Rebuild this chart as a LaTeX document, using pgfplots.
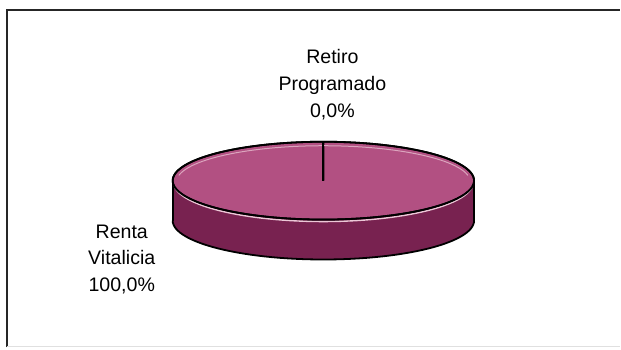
\documentclass[border=0pt]{standalone}
\usepackage{pgfplots}
\pgfplotsset{compat=1.18}
\usepgfplotslibrary{fillbetween}
\usepackage{fontspec}
\setmainfont{Liberation Sans}

\definecolor{topface}{RGB}{178,80,130}
\definecolor{sideface}{RGB}{120,34,80}
\definecolor{rim}{RGB}{236,200,215}

% pie values (percent), slices start at 12 o'clock and run clockwise
\def\valRenta{100}
\def\valRetiro{0}

\begin{document}
\begin{tikzpicture}
\pgfmathsetmacro{\angRenta}{\valRenta/(\valRenta+\valRetiro)*360}
\begin{axis}[
  width=310.5pt, height=175pt, scale only axis,
  xmin=0, xmax=621, ymin=0, ymax=350, y dir=reverse,
  hide axis, clip=false,
]
  % keep the whole canvas
  \path (axis cs:0,0) rectangle (axis cs:621,350);
  % frame
  \draw[line width=1.2pt, black!85] (axis cs:7,348) -- (axis cs:7,10) -- (axis cs:621,10);
  \draw[line width=0.8pt, black!12] (axis cs:7,347) -- (axis cs:621,347);

  % side of the disc (front half)
  \addplot[name path=frontTop, draw=none, domain=0:180, samples=60]
    ({324+151*cos(x)}, {181+39*sin(x)});
  \addplot[name path=frontBot, draw=none, domain=0:180, samples=60]
    ({324+151*cos(x)}, {221+39*sin(x)});
  \addplot[sideface] fill between[of=frontTop and frontBot];
  \addplot[black, line width=0.9pt, domain=0:180, samples=60]
    ({324+151*cos(x)}, {221+39*sin(x)});
  \draw[black, line width=0.9pt] (axis cs:173,181) -- (axis cs:173,221);
  \draw[black, line width=0.9pt] (axis cs:475,181) -- (axis cs:475,221);

  % top face: Renta Vitalicia slice
  \addplot[fill=topface, draw=black, line width=0.9pt, domain=-90:{\angRenta-90}, samples=120]
    ({324+151*cos(x)}, {181+39*sin(x)}) -- (axis cs:324,181) -- cycle;
  % rim highlight
  \addplot[rim, line width=0.7pt, domain=5:175, samples=60]
    ({324+150*cos(x)}, {183+39*sin(x)});
  \addplot[rim!70!topface, line width=0.5pt, domain=190:350, samples=60]
    ({324+147*cos(x)}, {182+36*sin(x)});
  \addplot[fill=none, draw=black, line width=0.9pt, domain=0:360, samples=120]
    ({324+151*cos(x)}, {181+39*sin(x)});
  % boundary between slices
  \draw[black, line width=0.9pt] (axis cs:324,142) -- (axis cs:324,181);

  % labels
  \node[align=center, inner sep=0pt, font=\fontsize{9.8}{13.4}\selectfont] at (axis cs:333,85)
    {Retiro\\Programado\\0,0\%};
  \node[align=center, inner sep=0pt, font=\fontsize{9.8}{13.4}\selectfont] at (axis cs:122,260)
    {Renta\\Vitalicia\\100,0\%};
\end{axis}
\end{tikzpicture}
\end{document}
